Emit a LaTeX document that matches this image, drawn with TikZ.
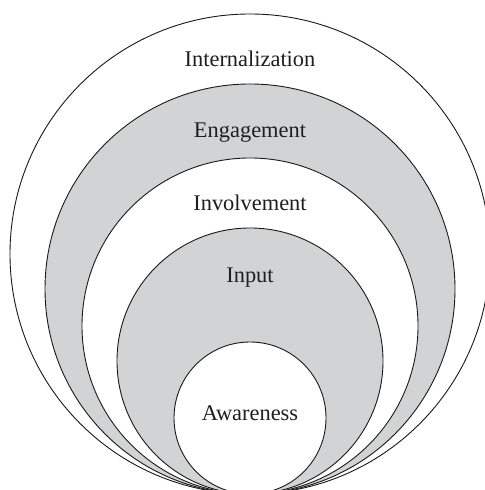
\documentclass[tikz,border=0pt]{standalone}
\usepackage{fontspec}
\setmainfont{Liberation Serif}
\definecolor{ringgray}{RGB}{210,211,213}

\begin{document}
\begin{tikzpicture}[x = 1bp, y = 1bp,
        ring/.style = {draw = black!90, line width = 0.9bp},
        plain/.style = {ring, fill = white},
        shaded/.style = {ring, fill = ringgray},
        stage/.style = {anchor = base, inner sep = 0pt, text = black!88, font = \fontsize{22.5}{27}\selectfont}
    ]
        \useasboundingbox (0,0) rectangle (485,490);
        \clip (0,0) rectangle (485,490);

        % all rings touch at one point below the lower edge
        \draw[plain] (250,236) circle (240);
        \draw[shaded] (250,201) circle (205);
        \draw[plain] (250,164) circle (168);
        \draw[shaded] (250,129) circle (133);
        \draw[plain] (250,72) circle (76);

        \node[stage] (internal) at (250,423.3) {Internalization};
        \node[stage] (engage) at (250,352) {Engagement};
        \node[stage] (involve) at (250,279.3) {Involvement};
        \node[stage] (input) at (250,207.3) {Input};
        \node[stage] (aware) at (250,69.3) {Awareness};

    \end{tikzpicture}
\end{document}
